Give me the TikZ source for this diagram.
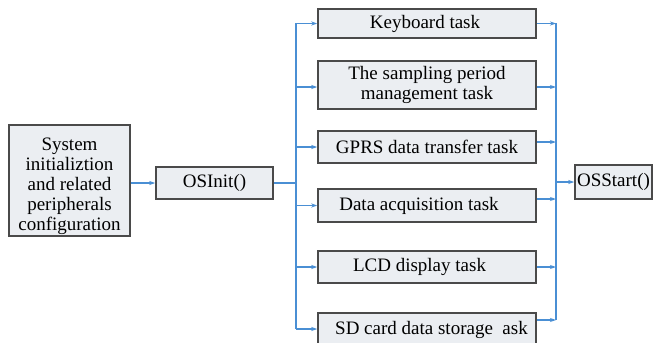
\documentclass[tikz,border=0pt]{standalone}
\usepackage{fontspec}
\setmainfont{Liberation Serif}
\usetikzlibrary{arrows.meta}
\definecolor{boxfill}{HTML}{EBEEF2}
\definecolor{boxedge}{HTML}{4A4A4A}
\definecolor{flowblue}{HTML}{4A8FD4}
\tikzset{
  blk/.style={draw=boxedge, line width=1.5pt, fill=boxfill, inner sep=0pt,
    align=center, font=\fontsize{19}{20}\selectfont},
  taskbox/.style={blk, minimum width=218pt},
  wire/.style={draw=flowblue, line width=1.2pt},
  flow/.style={wire, -{Stealth[length=6pt,width=4pt]}}
}
\begin{document}
\begin{tikzpicture}[x=1pt,y=-1pt]
\useasboundingbox (0,0) rectangle (654,343);

% initialisation chain
\node[blk, minimum width=121pt, minimum height=111pt] (sys) at (69.5,180.5)
  {\rule{0pt}{25pt}System\\initializtion\\and related\\peripherals\\configuration};
\node[blk, minimum width=117pt, minimum height=32pt] (osinit) at (214.5,183) {OSInit()};

% task boxes
\node[taskbox, minimum height=29pt] (kb)   at (427,23.5)  {\hspace*{-4pt}Keyboard task};
\node[taskbox, minimum height=48pt] (samp) at (427,85)    {The sampling period\\management task};
\node[taskbox, minimum height=32pt] (gprs) at (427,147)   {GPRS data transfer task};
\node[taskbox, minimum height=33pt] (daq)  at (427,205.5) {\hspace*{-16pt}Data acquisition task};
\node[taskbox, minimum height=32pt] (lcd)  at (427,267)   {\hspace*{-15pt}LCD display task};
\node[taskbox, minimum height=33pt] (sd)   at (427,329.5) {\hspace*{9pt}SD card data storage\ \ ask};

% scheduler start
\node[blk, minimum width=77pt, minimum height=34pt] (osstart) at (613.5,182) {OSStart()};

% bus lines
\coordinate (lbus) at (296,0);
\coordinate (rbus) at (556,0);
\coordinate (lbtop) at (296,23);
\coordinate (lbbot) at (296,329);
\coordinate (rbtop) at (556,23);
\coordinate (rbbot) at (556,320);

% connector ends that sit off the box centre lines
\coordinate (sampin)  at ([yshift=-2pt]samp.west);
\coordinate (sampout) at ([yshift=-2pt]samp.east);
\coordinate (gprsout) at ([yshift=5pt]gprs.east);
\coordinate (daqout)  at ([yshift=6.5pt]daq.east);

\draw[flow] (sys.east |- osinit.west) -- (osinit.west);
\draw[wire] (osinit.east) -- (osinit.east -| lbus);
\draw[wire] (lbtop) -- (lbbot);
\draw[wire] (rbtop) -- (rbbot);

% fan-out to tasks
\draw[flow] (lbus |- kb.west) -- (kb.west);
\draw[flow] (lbus |- sampin) -- (sampin);
\draw[flow] (lbus |- gprs.west) -- (gprs.west);
\draw[flow] (lbus |- daq.west) -- (daq.west);
\draw[flow] (lbus |- lcd.west) -- (lcd.west);
\draw[flow] (lbbot) -- (lbbot -| sd.west);

% fan-in from tasks
\draw[flow] (kb.east) -- (kb.east -| rbus);
\draw[flow] (sampout) -- (sampout -| rbus);
\draw[flow] (gprsout) -- (gprsout -| rbus);
\draw[flow] (daqout) -- (daqout -| rbus);
\draw[flow] (lcd.east) -- (lcd.east -| rbus);
\draw[flow] (rbbot -| sd.east) -- (rbbot);

\draw[flow] (rbus |- osstart.west) -- (osstart.west);
\end{tikzpicture}
\end{document}
